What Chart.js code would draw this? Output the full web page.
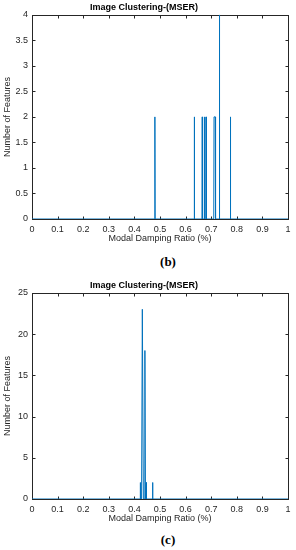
<!DOCTYPE html>
<html>
<head>
<meta charset="utf-8">
<script src="https://cdn.jsdelivr.net/npm/chart.js@4"></script>
<style>
  body { margin: 0; background: #fff; width: 296px; height: 550px; position: relative; overflow: hidden; }
  .box { position: absolute; left: 0; width: 296px; }
  .cap { position: absolute; left: 0; width: 336px; text-align: center; font: bold 13px "Liberation Serif", serif; color: #000; }
</style>
</head>
<body>
<div class="box" style="top:0;height:244px"><canvas id="chartB" width="296" height="244"></canvas></div>
<div class="cap" style="top:254px">(b)</div>
<div class="box" style="top:278px;height:246px"><canvas id="chartC" width="296" height="246"></canvas></div>
<div class="cap" style="top:532px">(c)</div>
<script>
// panel (b): modal damping ratio vs number of features
const ratioB = [0, 0.479, 0.480, 0.481, 0.633, 0.634, 0.635, 0.664, 0.665, 0.666, 0.672, 0.673, 0.674, 0.679, 0.680, 0.681,
                0.710, 0.711, 0.716, 0.717, 0.731, 0.732, 0.733, 0.774, 0.775, 0.776, 1];
const countB = [0, 0, 2, 0, 0, 2, 0, 0, 2, 0, 0, 2, 0, 0, 2, 0,
                0, 2, 2, 0, 0, 4, 0, 0, 2, 0, 0];

// panel (c)
const ratioC = [0, 0.422, 0.423, 0.424, 0.428, 0.431, 0.435, 0.438, 0.441, 0.443, 0.445, 0.446, 0.447, 0.470, 0.471, 0.472, 1];
const countC = [0, 0, 2, 0, 0, 23, 0, 0, 18, 0, 0, 2, 0, 0, 2, 0, 0];

const xTicks = [0, 0.1, 0.2, 0.3, 0.4, 0.5, 0.6, 0.7, 0.8, 0.9, 1];

const axisColor = '#262626';
const lineColor = '#0072BD';

// matlab style box with inward tick marks
const boxPlugin = {
    id: 'matlabBox',
    beforeDatasetsDraw(chart) {
        const ctx = chart.ctx;
        const a = chart.chartArea;
        const l = Math.round(a.left) + 0.5, r = Math.round(a.right) + 0.5;
        const t = Math.round(a.top) + 0.5, b = Math.round(a.bottom) + 0.5;
        ctx.save();
        ctx.strokeStyle = axisColor;
        ctx.lineWidth = 1;
        ctx.strokeRect(l, t, r - l, b - t);
        ctx.beginPath();
        chart.scales.x.ticks.forEach(tk => {
            const px = Math.round(chart.scales.x.getPixelForValue(tk.value)) + 0.5;
            ctx.moveTo(px, b); ctx.lineTo(px, b - 3);
            ctx.moveTo(px, t); ctx.lineTo(px, t + 3);
        });
        chart.scales.y.ticks.forEach(tk => {
            const py = Math.round(chart.scales.y.getPixelForValue(tk.value)) + 0.5;
            ctx.moveTo(l, py); ctx.lineTo(l + 3, py);
            ctx.moveTo(r, py); ctx.lineTo(r - 3, py);
        });
        ctx.stroke();
        ctx.restore();
    }
};

function makeChart(id, ratios, counts, yMax, yStep) {
    const points = ratios.map((r, i) => ({ x: r, y: counts[i] }));
    return new Chart(document.getElementById(id).getContext('2d'), {
        type: 'line',
        data: {
            datasets: [{
                data: points,
                borderColor: lineColor,
                borderWidth: 1,
                pointRadius: 0,
                tension: 0,
                fill: false
            }]
        },
        options: {
            responsive: false,
            animation: false,
            layout: { padding: { left: 0, right: 8, top: 0, bottom: 0 } },
            plugins: {
                legend: { display: false },
                tooltip: { enabled: false },
                title: {
                    display: true,
                    text: 'Image Clustering-(MSER)',
                    color: '#000',
                    font: { family: 'Liberation Sans', size: 9, weight: 'bold' },
                    padding: { top: 2, bottom: 2 }
                }
            },
            scales: {
                x: {
                    type: 'linear',
                    min: 0,
                    max: 1,
                    afterBuildTicks: s => { s.ticks = xTicks.map(v => ({ value: v })); },
                    afterFit: s => { s.height = 25; },
                    grid: { display: false, drawTicks: false, tickLength: 0 },
                    border: { display: false },
                    ticks: {
                        color: axisColor,
                        padding: 5,
                        maxRotation: 0,
                        font: { family: 'Liberation Sans', size: 9 },
                        callback: v => String(+v.toFixed(1))
                    },
                    title: {
                        display: true,
                        text: 'Modal Damping Ratio (%)',
                        color: axisColor,
                        font: { family: 'Liberation Sans', size: 9 },
                        padding: { top: 0, bottom: 0 }
                    }
                },
                y: {
                    min: 0,
                    max: yMax,
                    afterFit: s => { s.width = 32; },
                    grid: { display: false, drawTicks: false, tickLength: 0 },
                    border: { display: false },
                    ticks: {
                        stepSize: yStep,
                        color: axisColor,
                        padding: 4,
                        font: { family: 'Liberation Sans', size: 9 },
                        callback: v => String(+v.toFixed(1))
                    },
                    title: {
                        display: true,
                        text: 'Number of Features',
                        color: axisColor,
                        font: { family: 'Liberation Sans', size: 9 },
                        padding: { top: 2, bottom: 0 }
                    }
                }
            }
        },
        plugins: [boxPlugin]
    });
}

makeChart('chartB', ratioB, countB, 4, 0.5);
makeChart('chartC', ratioC, countC, 25, 5);
</script>
</body>
</html>
